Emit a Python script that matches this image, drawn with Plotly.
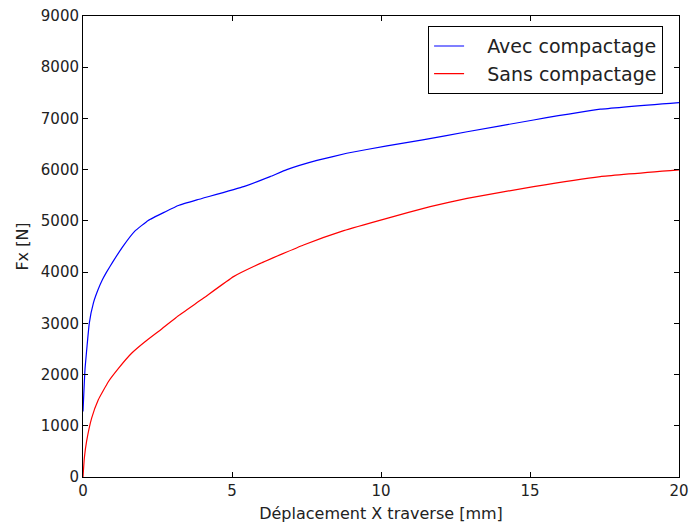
import plotly.graph_objects as go

x_avec = [0, 0.067, 0.21, 0.35, 0.5, 0.65, 0.79, 1.0, 1.3, 1.74, 2.19, 2.75, 3.2, 3.82, 5.39, 6.28, 6.84, 7.85, 8.85, 10.2, 11.4, 12.89, 15.12, 17.36, 20]
y_avec = [1280, 2100, 3000, 3400, 3650, 3850, 4000, 4200, 4470, 4800, 5010, 5175, 5300, 5410, 5670, 5865, 6000, 6180, 6320, 6465, 6580, 6740, 6970, 7180, 7310]

x_sans = [0, 0.045, 0.12, 0.29, 0.51, 0.85, 1.19, 1.63, 2.08, 2.64, 3.2, 3.99, 5.05, 5.95, 7.4, 8.75, 10.2, 11.65, 12.89, 15.12, 17.36, 20]
y_sans = [0, 370, 695, 1150, 1505, 1860, 2120, 2415, 2640, 2890, 3150, 3470, 3912, 4170, 4530, 4810, 5050, 5280, 5440, 5670, 5865, 5995]

pad = "\u00a0\u00a0\u00a0"

fig = go.Figure()
fig.add_trace(go.Scatter(x=x_avec, y=y_avec, mode="lines", name=pad + "Avec compactage",
                         line=dict(color="#0000ff", width=1.2, shape="spline", smoothing=0.3)))
fig.add_trace(go.Scatter(x=x_sans, y=y_sans, mode="lines", name=pad + "Sans compactage",
                         line=dict(color="#ff0000", width=1.2, shape="spline", smoothing=0.3)))

axis_common = dict(showline=True, linecolor="black", linewidth=1, mirror="ticks",
                   ticks="inside", ticklen=5, tickcolor="black", showgrid=False, zeroline=False,
                   automargin=False, ticklabeloverflow="allow",
                   tickfont=dict(family="DejaVu Sans", size=15, color="#222222"))

fig.update_layout(
    width=689, height=530,
    margin=dict(l=83, r=10, t=16, b=53),
    paper_bgcolor="white", plot_bgcolor="white",
    font=dict(family="DejaVu Sans", size=15, color="#222222"),
    xaxis=dict(range=[0, 20], dtick=5,
               title=dict(text="Déplacement X traverse [mm]", standoff=8, font=dict(size=16)),
               **axis_common),
    yaxis=dict(range=[0, 9000], dtick=1000,
               title=dict(text="Fx [N]", standoff=8, font=dict(size=16)),
               **axis_common),
    legend=dict(x=0.579, y=0.978, xanchor="left", yanchor="top",
                bordercolor="black", borderwidth=1, bgcolor="white", itemwidth=30,
                font=dict(family="DejaVu Sans", size=19, color="#222222")),
)

fig.write_html("out.html", config={"displayModeBar": False},
               post_script="document.body.style.margin='0';document.body.style.overflow='hidden';")
